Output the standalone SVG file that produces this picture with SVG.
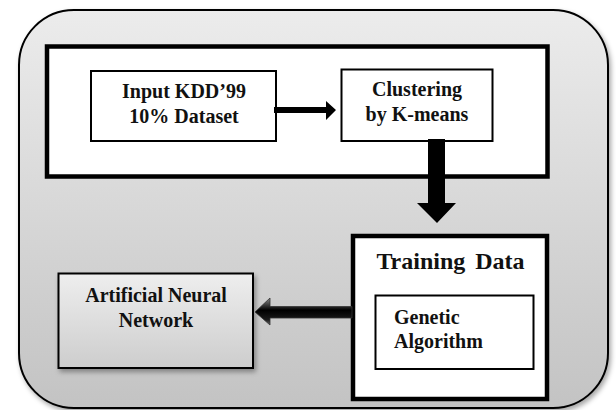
<svg xmlns="http://www.w3.org/2000/svg" width="616" height="410" viewBox="0 0 616 410">
<defs>
<linearGradient id="bgGrad" x1="0" y1="0" x2="0" y2="1">
<stop offset="0" stop-color="#ececec"/>
<stop offset="1" stop-color="#c3c3c3"/>
</linearGradient>
<linearGradient id="annGrad" x1="0" y1="0" x2="0" y2="1">
<stop offset="0" stop-color="#eeeeee"/>
<stop offset="1" stop-color="#cdcdcd"/>
</linearGradient>
<linearGradient id="arrowGrad" x1="0" y1="0" x2="0" y2="1">
<stop offset="0" stop-color="#8a8a8a"/>
<stop offset="0.45" stop-color="#000000"/>
<stop offset="0.8" stop-color="#1a1a1a"/>
<stop offset="1" stop-color="#6a6a6a"/>
</linearGradient>
<filter id="shadow" x="-10%" y="-10%" width="125%" height="125%">
<feDropShadow dx="2" dy="3" stdDeviation="2.5" flood-color="#000" flood-opacity="0.35"/>
</filter>
</defs>
<style>
.lbl{font-family:"Liberation Serif","Times New Roman",serif;font-weight:bold;font-size:20px;fill:#111;}
.big{font-size:24px;}
.box{fill:#fff;stroke:#000;stroke-width:2;}
.thick{fill:#fff;stroke:#000;stroke-width:4.5;}
</style>
<g id="background">
<rect x="19" y="10" width="589" height="398" rx="55" ry="55" fill="url(#bgGrad)" stroke="#000" stroke-width="2" filter="url(#shadow)"/>
</g>
<g id="top-panel">
<rect class="thick" x="47" y="46.5" width="500.5" height="130"/>
</g>
<g id="input-node">
<rect class="box" x="91" y="71" width="185" height="70"/>
<text class="lbl" x="184" y="98" text-anchor="middle">Input KDD’99</text>
<text class="lbl" x="184" y="123" text-anchor="middle">10% Dataset</text>
</g>
<g id="clustering-node">
<rect class="box" x="341.5" y="69.5" width="151" height="71.5"/>
<text class="lbl" x="417" y="96" text-anchor="middle">Clustering</text>
<text class="lbl" x="417" y="121" text-anchor="middle">by K-means</text>
</g>
<g id="training-node">
<rect class="thick" x="353" y="236" width="194" height="163"/>
<text class="lbl big" x="450.5" y="269" text-anchor="middle" word-spacing="4">Training Data</text>
</g>
<g id="genetic-node">
<rect class="box" x="375.5" y="295.5" width="158" height="73.5"/>
<text class="lbl" x="394" y="324">Genetic</text>
<text class="lbl" x="394" y="348">Algorithm</text>
</g>
<g id="ann-node">
<rect x="58.5" y="273.5" width="194.5" height="94.5" fill="url(#annGrad)" stroke="#000" stroke-width="2" filter="url(#shadow)"/>
<text class="lbl" x="156" y="302" text-anchor="middle" fill="#222">Artificial Neural</text>
<text class="lbl" x="156" y="327" text-anchor="middle" fill="#222">Network</text>
</g>
<g id="connectors">
<polygon points="274,107 326,107 326,101 336,110 326,120 326,113 274,113" fill="#000"/>
<polygon points="428,139 445,139 445,203 456,203 437,223 417,203 428,203" fill="#000"/>
<polygon points="352,306.5 270,306.5 270,298 255,312 270,325 270,318 352,318" fill="url(#arrowGrad)" stroke="#333" stroke-width="0.8"/>
</g>
</svg>
